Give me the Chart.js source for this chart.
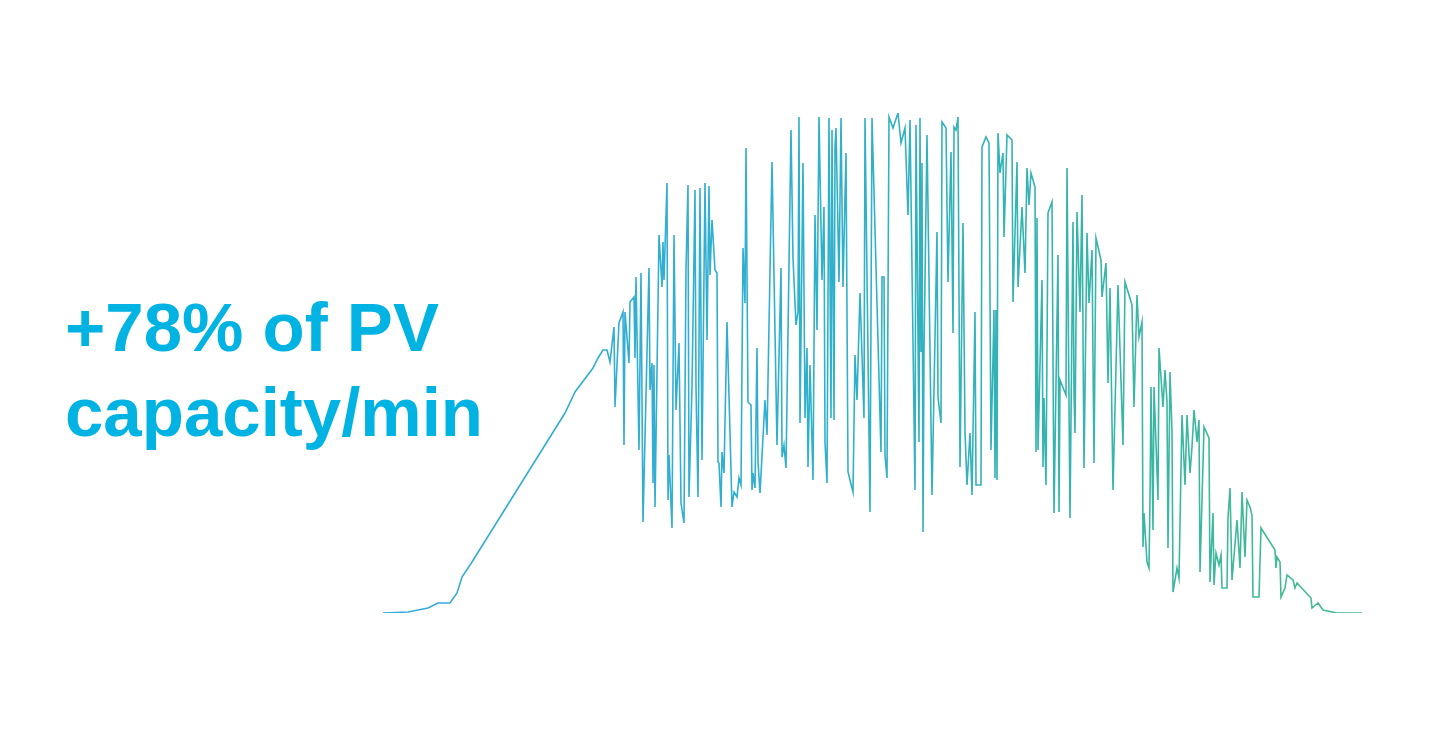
<!DOCTYPE html>
<html>
<head>
<meta charset="utf-8">
<script src="https://cdn.jsdelivr.net/npm/chart.js@4.4.1/dist/chart.umd.min.js"></script>
<style>
  html, body { margin: 0; padding: 0; background: #fff; }
  #wrap { position: relative; width: 1430px; height: 729px; }
  #headline {
    position: absolute; left: 65px; top: 285px;
    font-family: "Liberation Sans", Arial, sans-serif;
    font-weight: bold; font-size: 69px; line-height: 85px;
    color: #00b3e3; white-space: nowrap;
  }
</style>
</head>
<body>
<div id="wrap">
  <canvas id="pvChart" width="1430" height="729"></canvas>
  <div id="headline">+78% of PV<br>capacity/min</div>
</div>
<script>
// minutes since midnight
const minutes = [
  300, 325, 345, 355, 367, 374, 379, 389, 482, 492, 510, 515, 520, 524, 527,
  531, 532, 536, 540, 541, 542, 546, 547, 551, 552, 553, 556, 558, 560, 566,
  567, 569, 570, 571, 572, 576, 579, 580, 581, 584, 585, 586, 589, 591, 593,
  596, 598, 601, 603, 605, 606, 609, 612, 613, 615, 617, 619, 622, 624, 626,
  627, 629, 632, 634, 635, 636, 638, 639, 641, 644, 649, 651, 654, 656, 658,
  660, 662, 663, 665, 668, 669, 670, 672, 674, 675, 677, 682, 684, 689, 694,
  698, 699, 701, 703, 708, 710, 713, 715, 716, 717, 720, 722, 724, 725, 727,
  730, 732, 734, 736, 739, 741, 742, 744, 746, 748, 749, 751, 752, 753, 756,
  758, 760, 763, 765, 770, 772, 774, 777, 781, 782, 787, 789, 798, 799, 801,
  802, 804, 806, 810, 815, 818, 822, 825, 827, 832, 833, 836, 837, 838, 839,
  840, 841, 844, 849, 854, 855, 858, 859, 863, 865, 868, 870, 871, 873, 875,
  877, 880, 882, 884, 887, 889, 892, 893, 898, 899, 903, 906, 908, 911, 912,
  913, 914, 915, 917, 920, 921, 924, 929, 930, 934, 935, 939, 942, 944, 946,
  948, 952, 953, 954, 955, 959, 960, 961, 963, 965, 969, 971, 975, 976, 977,
  983, 984, 987, 990, 991, 992, 994, 997, 999, 1001, 1004, 1006, 1009, 1011, 1013,
  1018, 1019, 1023, 1025, 1027, 1030, 1035, 1040, 1042, 1049, 1051, 1054, 1056, 1059, 1060,
  1061, 1064, 1066, 1067, 1068, 1070, 1071, 1075, 1076, 1080, 1082, 1084, 1085, 1087, 1089,
  1090, 1094, 1096, 1099, 1102, 1104, 1107, 1109, 1111, 1114, 1116, 1117, 1121, 1126, 1127,
  1130, 1131, 1133, 1136, 1138, 1139, 1144, 1145, 1147, 1149, 1154, 1157, 1159, 1162, 1164,
  1167, 1169, 1170, 1176, 1178, 1192, 1193, 1194, 1197, 1198, 1202, 1204, 1210, 1212, 1214,
  1228, 1229, 1235, 1240, 1254, 1279
];

// PV output, % of installed capacity
const pvOutput = [
  0, 0.2, 1.0, 2.0, 2.0, 4.0, 7.2, 10.2, 40.0, 44.2, 49.0, 51.0, 52.6, 52.6, 50.2,
  57.2, 41.2, 58.0, 60.2, 33.6, 60.2, 50.0, 62.2, 63.2, 51.0, 67.2, 32.6, 68.0, 18.2, 69.0,
  44.6, 50.0, 26.0, 49.6, 21.2, 75.6, 65.2, 74.2, 66.6, 86.0, 22.6, 31.6, 17.0, 75.6, 40.6,
  54.0, 22.0, 18.0, 68.6, 85.6, 23.2, 45.2, 84.6, 45.2, 23.2, 85.0, 30.6, 86.0, 54.6, 85.4,
  67.6, 78.6, 68.6, 68.0, 30.2, 30.0, 21.2, 32.2, 28.0, 58.2, 21.2, 24.2, 23.2, 27.0, 25.6,
  73.0, 62.0, 93.0, 42.2, 41.6, 24.6, 28.0, 25.0, 53.0, 30.2, 24.0, 42.6, 35.6, 90.2, 33.6,
  69.0, 31.2, 33.6, 29.0, 96.6, 71.0, 57.6, 60.2, 99.2, 38.0, 90.0, 39.0, 53.0, 29.2, 49.6,
  26.6, 79.6, 56.6, 99.2, 66.6, 81.2, 34.2, 26.0, 99.0, 39.0, 96.6, 38.6, 93.2, 97.0, 66.2,
  99.0, 65.2, 92.0, 28.2, 24.2, 51.6, 42.6, 64.0, 39.0, 99.0, 20.2, 99.0, 32.2, 67.2, 67.2,
  31.6, 27.0, 99.2, 97.0, 100.0, 94.0, 97.0, 79.6, 98.6, 24.6, 97.6, 34.2, 99.0, 52.2, 90.0,
  16.2, 52.2, 95.6, 23.6, 76.2, 43.2, 38.0, 98.2, 97.0, 66.2, 92.2, 56.0, 97.2, 96.6, 99.2,
  29.2, 78.0, 36.2, 25.6, 36.0, 23.6, 60.2, 25.6, 25.6, 93.2, 95.2, 94.0, 32.6, 60.6, 27.0,
  60.6, 26.6, 96.0, 88.0, 92.0, 75.2, 95.6, 94.6, 62.2, 90.2, 65.2, 81.2, 68.0, 89.0, 81.6,
  88.0, 85.2, 32.2, 79.0, 32.6, 66.6, 29.2, 43.0, 25.6, 80.0, 82.2, 20.0, 71.6, 20.2, 46.6,
  43.6, 89.0, 19.0, 78.2, 44.0, 36.0, 80.2, 60.2, 83.6, 29.0, 76.0, 62.0, 72.6, 30.0, 75.0,
  70.6, 63.2, 70.0, 46.0, 65.0, 24.6, 65.6, 33.6, 66.2, 61.6, 41.2, 63.6, 55.2, 58.2, 13.2,
  20.0, 10.2, 9.0, 22.6, 45.2, 16.6, 45.2, 22.6, 53.0, 41.2, 48.6, 42.2, 13.0, 48.2, 36.2,
  4.2, 9.0, 7.0, 39.6, 25.6, 39.6, 28.0, 33.2, 40.6, 34.2, 38.6, 8.2, 37.2, 35.0, 6.2,
  20.0, 5.6, 12.0, 9.6, 11.6, 5.0, 5.0, 19.0, 25.0, 6.6, 18.6, 9.0, 24.2, 11.2, 22.6,
  21.2, 19.6, 3.2, 3.2, 17.0, 12.6, 9.0, 11.2, 10.2, 3.2, 5.0, 7.6, 6.6, 5.0, 6.0,
  3.0, 1.0, 2.0, 0.6, 0, 0
];

const ctx = document.getElementById('pvChart').getContext('2d');

function lineGradient(context) {
  const area = context.chart.chartArea;
  if (!area) return '#30b0cc';
  const g = context.chart.ctx.createLinearGradient(area.left, 0, area.right, 0);
  g.addColorStop(0, '#36aadc');
  g.addColorStop(0.45, '#2fb0cc');
  g.addColorStop(0.7, '#35b4ad');
  g.addColorStop(1, '#46bc8c');
  return g;
}

new Chart(ctx, {
  type: 'line',
  data: {
    datasets: [{
      data: minutes.map((m, i) => ({ x: m, y: pvOutput[i] })),
      borderColor: lineGradient,
      borderWidth: 1.6,
      pointRadius: 0,
      tension: 0,
      fill: false
    }]
  },
  options: {
    responsive: false,
    animation: false,
    layout: { padding: { left: 383, right: 68, top: 113, bottom: 116 } },
    plugins: { legend: { display: false }, tooltip: { enabled: false } },
    scales: {
      x: { type: 'linear', min: 300, max: 1279, display: false },
      y: { min: 0, max: 100, display: false }
    }
  }
});
</script>
</body>
</html>
